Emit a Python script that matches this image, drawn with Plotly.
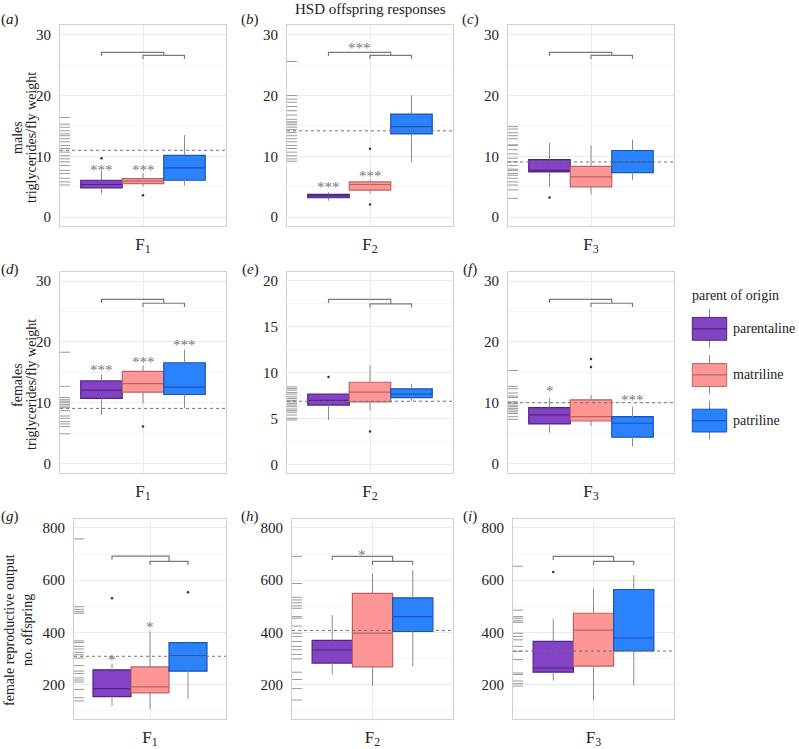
import plotly.graph_objects as go

# ---------------- data ----------------
groups = ["parentaline", "matriline", "patriline"]
generations = ["F<sub>1</sub>", "F<sub>2</sub>", "F<sub>3</sub>"]
title_text = "HSD offspring responses"
legend_title = "parent of origin"
row_titles = [["males", "triglycerides/fly weight"],
              ["females", "triglycerides/fly weight"],
              ["female reproductive output", "no. offspring"]]

# (a) males F1
a_lower = [3.9, 5.1, 5.2]
a_q1 = [4.84, 5.54, 6.08]
a_median = [5.38, 5.92, 8.1]
a_q3 = [6.08, 6.36, 10.16]
a_upper = [7.6, 7.3, 13.5]
a_out_group = ["parentaline", "matriline"]
a_out_value = [9.7, 3.6]
a_ref = 11.0
a_star_at = ["parentaline", "matriline"]
a_star_text = ["***", "***"]
a_star_y = [8.5, 8.5]
a_brackets = [27.1, 26.6]
a_rug = [16.4, 15.3, 14.8, 14.2, 13.7, 13.4, 12.9, 12.4, 11.8, 11.3, 10.7, 10.1,
         9.6, 9.1, 8.5, 7.7, 7.2, 6.4, 5.8, 5.3]

# (b) males F2
b_lower = [2.7, 3.9, 9.1]
b_q1 = [3.2, 4.46, 13.7]
b_median = [3.5, 5.38, 14.9]
b_q3 = [3.75, 5.8, 16.96]
b_upper = [4.1, 6.2, 20.05]
b_out_group = ["matriline", "matriline"]
b_out_value = [11.25, 2.1]
b_ref = 14.2
b_star_at = ["parentaline", "matriline", "bracket"]
b_star_text = ["***", "***", "***"]
b_star_y = [5.7, 7.5, 28.4]
b_brackets = [27.1, 26.6]
b_rug = [25.6, 20.0, 19.4, 18.9, 18.2, 17.5, 16.8, 16.1, 15.7, 15.5, 15.2, 14.8,
         14.4, 13.9, 13.4, 12.9, 12.4, 11.8, 11.3, 10.7, 10.1, 9.6, 9.2]

# (c) males F3
c_lower = [5.0, 3.75, 6.08]
c_q1 = [7.45, 5.0, 7.34]
c_median = [7.7, 6.63, 9.08]
c_q3 = [9.46, 8.37, 10.97]
c_upper = [12.2, 11.8, 12.77]
c_out_group = ["parentaline"]
c_out_value = [3.26]
c_ref = 9.08
c_star_at = []
c_star_text = []
c_star_y = []
c_brackets = [27.1, 26.6]
c_rug = [14.9, 14.5, 13.9, 13.4, 12.9, 11.9, 11.8, 11.1, 10.4, 9.7, 9.1, 8.5,
         7.9, 7.7, 7.2, 6.9, 6.4, 5.8, 5.3, 4.5, 3.1]

# (d) females F1
d_lower = [8.0, 9.9, 9.07]
d_q1 = [10.7, 11.73, 11.35]
d_median = [12.06, 13.15, 12.55]
d_q3 = [13.58, 15.16, 16.57]
d_upper = [14.67, 16.1, 18.75]
d_out_group = ["matriline"]
d_out_value = [6.08]
d_ref = 9.07
d_star_at = ["parentaline", "matriline", "patriline"]
d_star_text = ["***", "***", "***"]
d_star_y = [16.1, 17.4, 20.1]
d_brackets = [27.0, 26.35]
d_rug = [18.3, 12.7, 10.86, 10.5, 10.26, 10.0, 9.72, 9.45, 9.18, 8.69, 7.82,
         7.44, 6.9, 6.52, 6.08, 4.89]

# (e) females F2
e_lower = [4.86, 5.9, 6.95]
e_q1 = [6.48, 6.84, 7.3]
e_median = [7.0, 7.89, 7.67]
e_q3 = [7.67, 8.97, 8.25]
e_upper = [7.8, 10.8, 8.8]
e_out_group = ["parentaline", "matriline"]
e_out_value = [9.55, 3.6]
e_ref = 6.9
e_star_at = []
e_star_text = []
e_star_y = []
e_brackets = [18.0, 17.5]
e_rug = [8.46, 8.28, 8.1, 7.85, 7.67, 7.38, 7.2, 7.0, 6.84, 6.66, 6.48, 6.3,
         6.05, 5.87, 5.69, 5.4, 5.04, 4.86]

# (f) females F3
f_lower = [5.1, 6.19, 2.82]
f_q1 = [6.52, 7.0, 4.34]
f_median = [7.99, 7.71, 6.63]
f_q3 = [9.18, 10.48, 7.71]
f_upper = [10.7, 11.25, 9.34]
f_out_group = ["matriline", "matriline"]
f_out_value = [17.2, 15.86]
f_ref = 10.0
f_star_at = ["parentaline", "patriline"]
f_star_text = ["*", "***"]
f_star_y = [12.6, 11.1]
f_brackets = [27.0, 26.35]
f_rug = [15.3, 12.7, 12.3, 11.6, 11.1, 10.86, 10.15, 9.9, 9.6, 9.34, 9.07, 8.8,
         8.5, 8.24, 7.7, 7.27]

# (g) reproductive output F1
g_lower = [117, 105, 145]
g_q1 = [153, 168, 251]
g_median = [184, 191, 311]
g_q3 = [256, 267, 360]
g_upper = [280, 403, 365]
g_out_group = ["parentaline", "patriline"]
g_out_value = [530, 553]
g_ref = 308
g_star_at = ["parentaline", "matriline"]
g_star_text = ["*", "*"]
g_star_y = [308, 435]
g_brackets = [692, 672]
g_rug = [758, 498, 488, 479, 473, 367, 361, 346, 336, 323, 314, 301, 272, 251,
         242, 225, 217, 209, 181, 149, 137]

# (h) reproductive output F2
h_lower = [238, 194, 270]
h_q1 = [282, 267, 403]
h_median = [332, 397, 460]
h_q3 = [369, 549, 532]
h_upper = [466, 625, 638]
h_out_group = []
h_out_value = []
h_ref = 407
h_star_at = ["bracket"]
h_star_text = ["*"]
h_star_y = [713]
h_brackets = [691, 672]
h_rug = [691, 587, 534, 524, 513, 501, 492, 460, 454, 424, 396, 384, 365, 346,
         333, 315, 298, 247, 219, 184, 140]

# (i) reproductive output F3
i_lower = [215, 140, 197]
i_q1 = [247, 270, 329]
i_median = [263, 408, 378]
i_q3 = [365, 473, 564]
i_upper = [451, 568, 619]
i_out_group = ["parentaline"]
i_out_value = [631]
i_ref = 328
i_star_at = []
i_star_text = []
i_star_y = []
i_brackets = [691, 672]
i_rug = [653, 485, 460, 454, 444, 438, 396, 384, 371, 346, 327, 295, 244, 238,
         213, 203, 194]

# ---------------- style ----------------
W, H = 799, 749
FONT = "Liberation Serif, DejaVu Serif, Times New Roman, serif"
fills = ["#8443C4", "#FF9696", "#2A82FF"]
edges = ["#4E2480", "#B86464", "#1A55B0"]
whisker_col = "#8c8c8c"
grid_major = "#ebebeb"
grid_minor = "#f5f5f5"
frame_col = "#d0d0d0"
text_gray = "#777777"
positions = {"parentaline": -0.25, "matriline": 0.0, "patriline": 0.25}
positions["bracket"] = (-0.25 + 0.125) / 2
box_w = 0.25

# pixel boxes of each panel: left, top, right, bottom
panel_px = {
    "a": (60, 25, 226, 228), "b": (287, 25, 453, 228), "c": (508, 25, 674, 228),
    "d": (60, 274, 226, 477), "e": (287, 274, 453, 477), "f": (508, 274, 674, 477),
    "g": (74, 523, 226, 725), "h": (292, 523, 453, 725), "i": (513, 523, 674, 725),
}
yranges = {
    "a": [-1.47, 31.63], "b": [-1.47, 31.63], "c": [-1.47, 31.63],
    "d": [-1.58, 31.52], "e": [-0.94, 21.0], "f": [-1.58, 31.52],
    "g": [66.8, 835], "h": [66.8, 835], "i": [66.8, 835],
}
yticks = {"a": [0, 10, 20, 30], "b": [0, 10, 20, 30], "c": [0, 10, 20, 30],
          "d": [0, 10, 20, 30], "e": [0, 5, 10, 15, 20], "f": [0, 10, 20, 30],
          "g": [200, 400, 600, 800], "h": [200, 400, 600, 800], "i": [200, 400, 600, 800]}
yminor = {"a": 5, "b": 5, "c": 5, "d": 5, "e": 2.5, "f": 5, "g": 100, "h": 100, "i": 100}
label_pos = {"a": (10, 20), "b": (250, 20), "c": (470, 20),
             "d": (10, 272), "e": (250, 272), "f": (470, 272),
             "g": (10, 521), "h": (250, 521), "i": (470, 521)}

panels = []
for k in "abcdefghi":
    g_ = globals()
    panels.append(dict(
        key=k, lower=g_[k + "_lower"], q1=g_[k + "_q1"], median=g_[k + "_median"],
        q3=g_[k + "_q3"], upper=g_[k + "_upper"], out_group=g_[k + "_out_group"],
        out_value=g_[k + "_out_value"], ref=g_[k + "_ref"], star_at=g_[k + "_star_at"],
        star_text=g_[k + "_star_text"], star_y=g_[k + "_star_y"],
        brackets=g_[k + "_brackets"], rug=g_[k + "_rug"]))

fig = go.Figure()
layout = dict(width=W, height=H, margin=dict(l=0, r=0, t=0, b=0),
              paper_bgcolor="white", plot_bgcolor="white", showlegend=False,
              boxmode="overlay", font=dict(family=FONT, size=14, color="#222"))
annotations = []
shapes = []

for idx, p in enumerate(panels):
    k = p["key"]
    n = idx + 1
    xa = "x" if n == 1 else f"x{n}"
    ya = "y" if n == 1 else f"y{n}"
    xl = "xaxis" if n == 1 else f"xaxis{n}"
    yl = "yaxis" if n == 1 else f"yaxis{n}"
    L, T, R, B = panel_px[k]
    yr = yranges[k]
    span = yr[1] - yr[0]
    gen = generations[idx % 3]

    layout[xl] = dict(domain=[L / W, R / W], range=[-0.5, 0.5], anchor=ya,
                      tickvals=[0], ticktext=[gen], showgrid=True, gridcolor=grid_major,
                      zeroline=False, showline=True, mirror=True, linecolor=frame_col,
                      linewidth=1, ticks="", tickfont=dict(size=17, family=FONT, color="#222"),
                      ticklabelstandoff=2, fixedrange=True)
    layout[yl] = dict(domain=[1 - B / H, 1 - T / H], range=yr, anchor=xa,
                      tickvals=yticks[k], showgrid=True, gridcolor=grid_major,
                      minor=dict(tick0=0, dtick=yminor[k], showgrid=True, gridcolor=grid_minor),
                      zeroline=False, showline=True, mirror=True, linecolor=frame_col,
                      linewidth=1, ticks="", tickfont=dict(size=15, family=FONT, color="#222"),
                      ticklabelstandoff=5, fixedrange=True)

    # rug
    px_unit = 1.0 / (R - L)
    fig.add_trace(go.Scatter(x=[-0.5 + 4.5 * px_unit] * len(p["rug"]), y=p["rug"],
                             mode="markers", xaxis=xa, yaxis=ya, hoverinfo="skip",
                             marker=dict(symbol="line-ew", size=8,
                                         line=dict(color="#9a9a9a", width=1))))
    # whiskers (outside the boxes only)
    for gi, gname in enumerate(groups):
        x0 = positions[gname]
        fig.add_trace(go.Scatter(x=[x0, x0, None, x0, x0],
                                 y=[p["lower"][gi], p["q1"][gi], None, p["q3"][gi], p["upper"][gi]],
                                 mode="lines", xaxis=xa, yaxis=ya, hoverinfo="skip",
                                 connectgaps=False, line=dict(color=whisker_col, width=1)))
    # boxes
    for gi, gname in enumerate(groups):
        fig.add_trace(go.Box(x=[positions[gname]], q1=[p["q1"][gi]], median=[p["median"][gi]],
                             q3=[p["q3"][gi]], lowerfence=[p["q1"][gi]], upperfence=[p["q3"][gi]],
                             width=box_w, fillcolor=fills[gi], whiskerwidth=0,
                             line=dict(color=edges[gi], width=1.2), boxpoints=False,
                             name=gname, xaxis=xa, yaxis=ya))
    # outliers
    if p["out_value"]:
        fig.add_trace(go.Scatter(x=[positions[gn] for gn in p["out_group"]], y=p["out_value"],
                                 mode="markers", xaxis=xa, yaxis=ya, hoverinfo="skip",
                                 marker=dict(size=2.5, color="#333333")))
    # reference line
    fig.add_trace(go.Scatter(x=[-0.5, 0.5], y=[p["ref"], p["ref"]], mode="lines",
                             xaxis=xa, yaxis=ya, hoverinfo="skip",
                             line=dict(color="#707070", width=1, dash="dot")))
    # brackets
    top, low = p["brackets"]
    drop = 0.018 * span
    fig.add_trace(go.Scatter(x=[-0.25, -0.25, 0.125, 0.125], y=[top - drop, top, top, low],
                             mode="lines", xaxis=xa, yaxis=ya, hoverinfo="skip",
                             line=dict(color="#7a7a7a", width=1.2)))
    fig.add_trace(go.Scatter(x=[0, 0, 0.25, 0.25], y=[low - drop, low, low, low - drop],
                             mode="lines", xaxis=xa, yaxis=ya, hoverinfo="skip",
                             line=dict(color="#7a7a7a", width=1.2)))
    # significance stars
    for at, txt, yv in zip(p["star_at"], p["star_text"], p["star_y"]):
        annotations.append(dict(x=positions[at], y=yv, xref=xa, yref=ya, text=txt,
                                showarrow=False, yshift=-4,
                                font=dict(family=FONT, size=15, color=text_gray)))
    # panel letter
    lx, ly = label_pos[k]
    annotations.append(dict(x=lx / W, y=1 - ly / H, xref="paper", yref="paper",
                            text=f"(<i>{k}</i>)", showarrow=False, xanchor="center",
                            yanchor="middle", font=dict(family=FONT, size=15, color="#222")))

# row titles (y-axis titles)
row_title_px = [((18, 32), 139), ((18, 32), 388), ((10, 28), 635)]
for r, (lines, ((x1, x2), yc)) in enumerate(zip(row_titles, row_title_px)):
    for txt, xc in zip(lines, (x1, x2)):
        annotations.append(dict(x=xc / W, y=1 - yc / H, xref="paper", yref="paper",
                                text=txt, showarrow=False, textangle=-90,
                                xanchor="center", yanchor="middle",
                                font=dict(family=FONT, size=14, color="#222")))

# main title
annotations.append(dict(x=370 / W, y=1 - 9 / H, xref="paper", yref="paper", text=title_text,
                        showarrow=False, xanchor="center", yanchor="middle",
                        font=dict(family=FONT, size=15, color="#222")))

# legend (drawn as keys)
annotations.append(dict(x=690 / W, y=1 - 298 / H, xref="paper", yref="paper", text=legend_title,
                        showarrow=False, xanchor="left", yanchor="middle",
                        font=dict(family=FONT, size=14, color="#222")))
key_centers = [331.5, 378, 424]
for gi, (gname, yc) in enumerate(zip(groups, key_centers)):
    x0, x1, xm = 692.3, 726.7, 709.5
    shapes.append(dict(type="line", xref="paper", yref="paper", x0=xm / W, x1=xm / W,
                       y0=1 - (yc - 20) / H, y1=1 - (yc + 19) / H,
                       line=dict(color=whisker_col, width=1)))
    shapes.append(dict(type="rect", xref="paper", yref="paper", x0=x0 / W, x1=x1 / W,
                       y0=1 - (yc - 11.5) / H, y1=1 - (yc + 11.5) / H,
                       fillcolor=fills[gi], line=dict(color=edges[gi], width=1)))
    shapes.append(dict(type="line", xref="paper", yref="paper", x0=x0 / W, x1=x1 / W,
                       y0=1 - yc / H, y1=1 - yc / H, line=dict(color=edges[gi], width=1.2)))
    annotations.append(dict(x=731 / W, y=1 - yc / H, xref="paper", yref="paper", text=gname,
                            showarrow=False, xanchor="left", yanchor="middle",
                            font=dict(family=FONT, size=14, color="#222")))

layout["annotations"] = annotations
layout["shapes"] = shapes
fig.update_layout(**layout)
fig.write_html("out.html", config={"displayModeBar": False},
               post_script="document.body.style.margin='0';document.body.style.padding='0';")
